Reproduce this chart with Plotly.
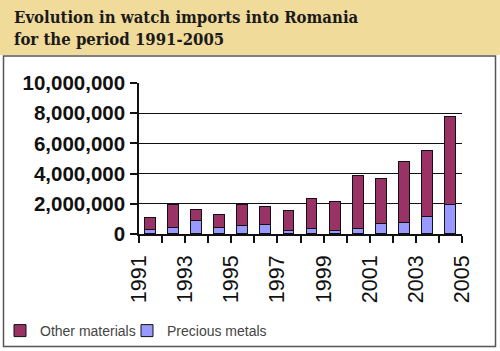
import plotly.graph_objects as go

# ---- data ----
years = [1991, 1992, 1993, 1994, 1995, 1996, 1997, 1998, 1999, 2000, 2001, 2002, 2003, 2004]
precious_metals = [270000, 370000, 890000, 370000, 550000, 620000, 180000, 300000, 180000, 300000, 640000, 750000, 1130000, 1920000]
other_materials = [770000, 1520000, 680000, 870000, 1340000, 1180000, 1330000, 2050000, 1950000, 3520000, 2980000, 4050000, 4400000, 5830000]
tick_years = [1991, 1993, 1995, 1997, 1999, 2001, 2003, 2005]
tick_labels = ["1991", "1993", "1995", "1997", "1999", "2001", "2003", "2005"]
y_ticks = [0, 2000000, 4000000, 6000000, 8000000, 10000000]

W, H = 500, 351
L, R, T, B = 139, 38, 83, 117
pw, ph = W - L - R, H - T - B


def px(x):
    return (x - L) / pw


def py(y):
    return (H - B - y) / ph


fig = go.Figure()
fig.add_trace(go.Bar(
    x=years, y=precious_metals, name="Precious metals",
    marker=dict(color="#9999FF", line=dict(color="#111111", width=1)),
    width=0.47, offset=0.265, legend="legend2",
))
fig.add_trace(go.Bar(
    x=years, y=other_materials, name="Other materials",
    marker=dict(color="#993366", line=dict(color="#111111", width=1)),
    width=0.47, offset=0.265, legend="legend",
))

shapes = [
    # tan title band
    dict(type="rect", xref="paper", yref="paper", x0=px(0), x1=px(W), y0=py(55), y1=py(0),
         fillcolor="#F1DB9B", line=dict(width=0), layer="below"),
    # boxed chart frame
    dict(type="rect", xref="paper", yref="paper", x0=px(3.5), x1=px(495.5), y0=py(346.5), y1=py(56),
         fillcolor="rgba(0,0,0,0)", line=dict(color="#555555", width=1.5), layer="above"),
]

annotations = [
    dict(text="Evolution in watch imports into Romania<br>for the period 1991-2005",
         xref="paper", yref="paper", x=px(12), y=py(5), xanchor="left", yanchor="top",
         align="left", showarrow=False,
         font=dict(family="DejaVu Serif Condensed", size=16.6, color="#1a1a1a", weight="bold")),
]

legend_font = dict(family="Liberation Sans", size=14, color="#444444")

fig.update_layout(
    width=W, height=H,
    margin=dict(l=L, r=R, t=T, b=B, pad=0, autoexpand=False),
    paper_bgcolor="white", plot_bgcolor="rgba(0,0,0,0)",
    barmode="stack",
    showlegend=True,
    legend=dict(orientation="h", x=px(0), y=py(331), xanchor="left", yanchor="middle",
                font=legend_font, bgcolor="rgba(0,0,0,0)"),
    legend2=dict(orientation="h", x=px(127), y=py(331), xanchor="left", yanchor="middle",
                 font=legend_font, bgcolor="rgba(0,0,0,0)"),
    shapes=shapes, annotations=annotations,
    xaxis=dict(type="linear", range=[1991, 2005], tickmode="array", tickvals=tick_years, ticktext=tick_labels,
               tickangle=-90, ticks="outside", ticklen=7, tickcolor="#111111", tickwidth=1.5,
               minor=dict(ticks="outside", ticklen=7, tickcolor="#111111", tickwidth=1.5, dtick=1, tick0=1991, showgrid=False),
               showline=True, linecolor="#111111", linewidth=1.5, showgrid=False, zeroline=False,
               automargin=False, ticklabelstandoff=4,
               tickfont=dict(family="Liberation Sans", size=21.5, color="#111111"), fixedrange=True),
    yaxis=dict(range=[0, 10000000], tickmode="array", tickvals=y_ticks, tickformat=",d",
               ticks="outside", ticklen=7, tickcolor="#111111", tickwidth=1.5,
               showline=True, linecolor="#111111", linewidth=1.5,
               showgrid=True, gridcolor="#111111", gridwidth=1, zeroline=False,
               automargin=False, ticklabelstandoff=1,
               tickfont=dict(family="Liberation Sans", size=20.5, color="#111111", weight="bold"), fixedrange=True),
    bargap=0,
)

fig.write_html("out.html")
